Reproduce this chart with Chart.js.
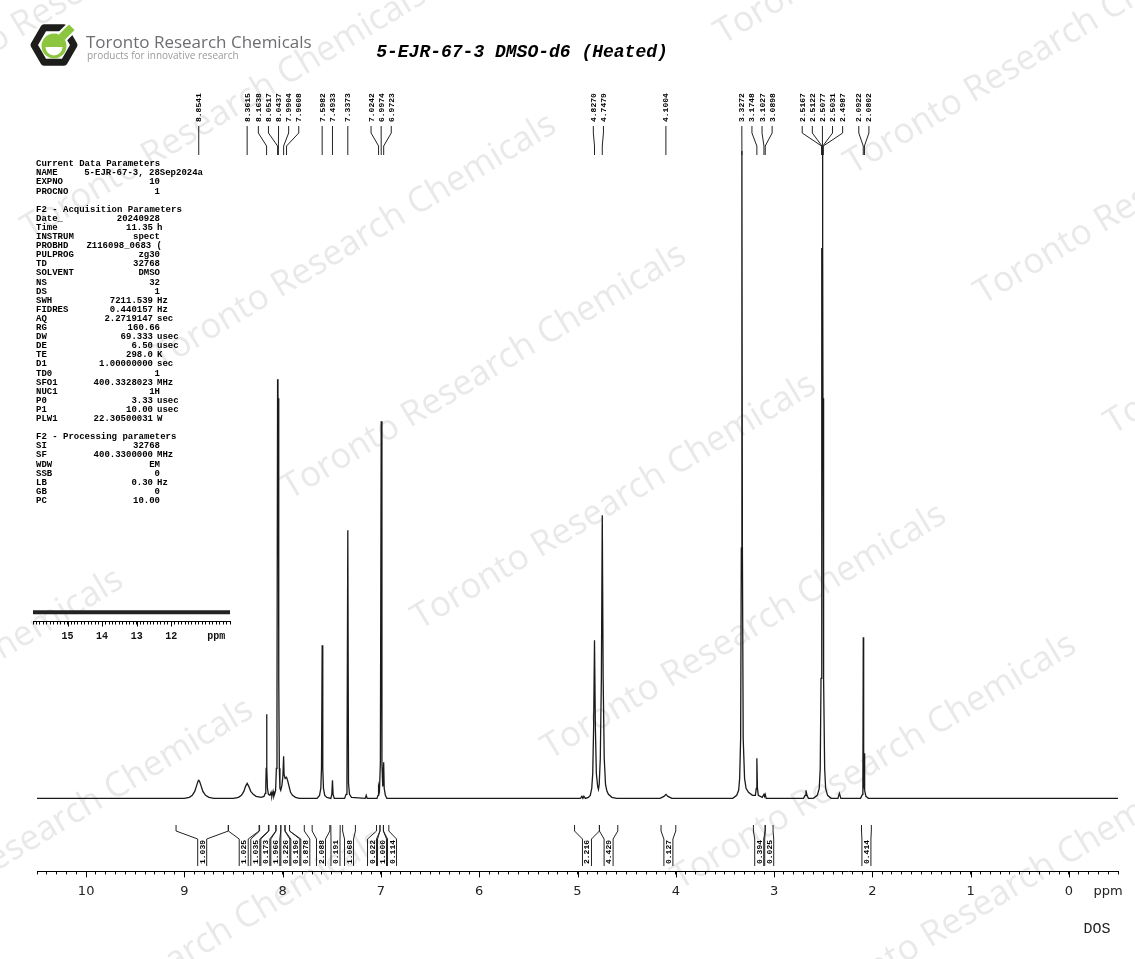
<!DOCTYPE html>
<html><head><meta charset="utf-8">
<script src="https://cdn.jsdelivr.net/npm/chart.js@4.4.1/dist/chart.umd.min.js"></script>
<style>
html,body{margin:0;padding:0;background:#fff;}
#wrap{position:relative;width:1135px;height:959px;overflow:hidden;}
#main{position:absolute;left:0;top:0;}
#inset{position:absolute;left:0;top:560px;}
</style></head><body>
<div id="wrap"><canvas id="main" width="1135" height="959"></canvas><canvas id="inset" width="250" height="100"></canvas></div>
<script>
// ---------- DATA ----------
const specPpm = [10.50,9.00,8.95,8.92,8.895,8.875,8.862,8.854,8.846,8.832,8.812,8.785,8.75,8.70,
 8.50,8.45,8.42,8.395,8.378,8.3615,8.345,8.325,8.30,8.27,8.22,
 8.19,8.178,8.172,8.168,8.1638,8.160,8.155,8.145,8.13,8.118,8.11,8.098,8.09,8.08,
 8.072,8.064,8.058,8.0517,8.0477,8.0437,8.040,8.034,8.028,
 8.02,8.008,7.998,7.9904,7.986,7.975,7.9608,7.95,7.935,7.92,7.90,7.87,7.83,
 7.65,7.625,7.612,7.605,7.5982,7.592,7.585,7.572,7.55,
 7.51,7.50,7.4933,7.487,7.475,
 7.37,7.355,7.346,7.3373,7.330,7.320,7.30,
 7.16,7.15,7.14,
 7.04,7.03,7.0242,7.015,7.006,6.9974,6.990,6.982,6.9723,6.967,6.955,6.94,
 4.97,4.955,4.945,4.935,4.92,
 4.89,4.87,4.855,4.845,4.836,4.827,4.818,4.808,4.795,4.787,4.779,4.768,4.757,4.748,4.739,4.728,4.715,4.70,4.685,4.65,4.60,
 4.16,4.12,4.10,4.08,4.04,
 3.42,3.38,3.36,3.35,3.34,3.333,3.3272,3.322,3.314,3.30,3.285,3.26,3.22,
 3.19,3.181,3.1748,3.169,3.16,3.12,3.1027,3.096,3.0898,3.08,
 2.70,2.685,2.675,2.665,2.65,
 2.60,2.56,2.54,2.53,2.522,2.5167,2.5145,2.5122,2.510,2.5077,2.5054,2.5031,2.501,2.4987,2.493,2.485,2.475,2.455,2.42,
 2.35,2.335,2.32,
 2.12,2.10,2.096,2.0922,2.088,2.084,2.0802,2.076,2.065,2.04,
 -0.50];
const specInt = [0,0,1,3,7,13,17,18,17,13,7,3,1,0,
 0,1,3,7,12,15,12,7,4,2,1,
 2,5,12,30,84,30,10,4,3,6,2,7,2,5,
 8,30,90,419,385,400,120,30,10,
 8,13,22,42,24,20,21,18,12,6,3,1,0,
 0,3,10,30,153,30,10,3,1,
 0,4,18,4,0,
 0,4,15,268,15,4,1,
 0,3,0,
 0,3,12,8,35,377,35,12,36,10,3,0,
 0,2,0,2,0,
 1,3,10,25,70,158,70,25,12,9,14,40,120,283,120,40,14,7,4,1,0,
 0,2,4,2,0,
 0,3,8,20,60,250,647,250,60,20,10,6,3,
 3,10,40,10,3,1,4,2,4,0,
 0,3,8,3,0,
 0,3,10,30,120,400,330,550,480,648,480,550,330,400,120,30,10,3,0,
 0,5,0,
 0,4,20,161,20,12,45,8,2,0,
 0];

const peakLabels = ['8.8541','8.3615','8.1638','8.0517','8.0437','7.9904','7.9608','7.5982','7.4933','7.3373',
 '7.0242','6.9974','6.9723','4.8270','4.7479','4.1004','3.3272','3.1748','3.1027','3.0898',
 '2.5167','2.5122','2.5077','2.5031','2.4987','2.0922','2.0802'];

const intFrom   = [9.085,8.553,8.235,8.14,8.067,8.018,7.975,7.93,7.70,7.51,7.39,7.045,7.01,6.975,5.03,4.777,4.15,3.21,3.09,2.11];
const intTo     = [8.553,8.24,8.145,8.07,8.02,7.978,7.93,7.78,7.52,7.415,7.26,7.01,6.975,6.92,4.777,4.59,4.00,3.09,3.01,2.01];
const intValues = ['1.039','1.025','1.035','0.173','1.966','0.226','0.196','0.878','2.088','0.191','1.068',
 '0.022','1.000','0.114','2.216','4.429','0.127','0.394','0.025','0.414'];

const axisMajor = [10,9,8,7,6,5,4,3,2,1,0];
const axisUnitLabel = 'ppm';

const insetPpm = [16.0, 10.3];
const insetInt = [0, 0];
const insetMajor = [15,14,13,12];

const titleText = '5-EJR-67-3 DMSO-d6 (Heated)';
const companyText = 'Toronto Research Chemicals';
const companySub = 'products for innovative research';
const footerText = 'DOS';

const s1Title = 'Current Data Parameters';
const s1Names = ['NAME','EXPNO','PROCNO'];
const s1Values = ['5-EJR-67-3, 28Sep2024a','10','1'];
const s1Units = ['','',''];
const s2Title = 'F2 - Acquisition Parameters';
const s2Names = ['Date_','Time','INSTRUM','PROBHD','PULPROG','TD','SOLVENT','NS','DS','SWH','FIDRES','AQ','RG','DW','DE','TE','D1','TD0','SFO1','NUC1','P0','P1','PLW1'];
const s2Values = ['20240928','11.35','spect','Z116098_0683 (','zg30','32768','DMSO','32','1','7211.539','0.440157','2.2719147','160.66','69.333','6.50','298.0','1.00000000','1','400.3328023','1H','3.33','10.00','22.30500031'];
const s2Units = ['','h','','','','','','','','Hz','Hz','sec','','usec','usec','K','sec','','MHz','','usec','usec','W'];
const s3Title = 'F2 - Processing parameters';
const s3Names = ['SI','SF','WDW','SSB','LB','GB','PC'];
const s3Values = ['32768','400.3300000','EM','0','0.30','0','10.00'];
const s3Units = ['','MHz','','','Hz','',''];

// ---------- HELPERS ----------
function spread(px, gap){
  let groups = px.map((p,i)=>({idx:[i], sum:p}));
  let changed = true;
  while(changed){
    changed = false;
    for(let k=0;k<groups.length-1;k++){
      const a=groups[k], b=groups[k+1];
      const ca=a.sum/a.idx.length, cb=b.sum/b.idx.length;
      const aEnd = ca + (a.idx.length-1)*gap/2;
      const bStart = cb - (b.idx.length-1)*gap/2;
      if(bStart - aEnd < gap){ groups.splice(k,2,{idx:a.idx.concat(b.idx), sum:a.sum+b.sum}); changed=true; break; }
    }
  }
  const out=[];
  for(const g of groups){ const n=g.idx.length, c=g.sum/n; g.idx.forEach((i,k)=>out[i]=c+(k-(n-1)/2)*gap); }
  return out;
}
function isNear(v,t){ return Math.abs(v-t)<1e-6; }

function drawWatermarks(ctx){
  ctx.save();
  ctx.fillStyle = '#e9e9e9';
  ctx.font = '35px "Open Sans"';
  ctx.textAlign = 'left'; ctx.textBaseline = 'alphabetic';
  const ang = -31*Math.PI/180;
  for(let i=-5;i<=7;i++){
    for(let j=-2;j<=2;j++){
      const x = 290 + i*130 + j*563, y = 500 + i*130 - j*325;
      if(x < -600 || x > 1250 || y < -100 || y > 1250) continue;
      ctx.save(); ctx.translate(x,y); ctx.rotate(ang); ctx.fillText(companyText,0,0); ctx.restore();
    }
  }
  ctx.restore();
}

function drawLogo(ctx){
  ctx.save();
  const cx=54, cy=45;
  ctx.beginPath();
  for(let k=0;k<6;k++){ const a=k*Math.PI/3; const x=cx+20*Math.cos(a), y=cy+20*Math.sin(a); if(k) ctx.lineTo(x,y); else ctx.moveTo(x,y); }
  ctx.closePath(); ctx.lineWidth=7; ctx.lineJoin='round'; ctx.strokeStyle='#1d1d1b'; ctx.stroke();
  ctx.fillStyle='#8cc63e';
  ctx.save(); ctx.translate(cx+10,cy-10); ctx.rotate(Math.PI/4);
  ctx.fillStyle='#fff'; ctx.fillRect(-6,-12,12,16);
  ctx.fillStyle='#8cc63e'; ctx.fillRect(-4,-11,8,14); ctx.restore();
  ctx.beginPath(); ctx.arc(cx,cy+1,12.5,0,Math.PI*2); ctx.fill();
  ctx.fillStyle='#fff'; ctx.beginPath(); ctx.arc(cx,cy+2,8.5,0,Math.PI); ctx.closePath(); ctx.fill();
  ctx.restore();
  ctx.save();
  ctx.fillStyle='#6d6e71'; ctx.textBaseline='middle'; ctx.textAlign='left';
  ctx.font='17px "Open Sans"'; ctx.fillText(companyText, 86, 43);
  ctx.fillStyle='#9a9a9a'; ctx.font='10px "Open Sans"'; ctx.fillText(companySub, 87, 56);
  ctx.restore();
}

function drawParams(ctx){
  ctx.save();
  ctx.fillStyle='#000'; ctx.font='bold 9px "Liberation Mono"'; ctx.textBaseline='middle';
  const lh = 9.1, y0 = 164;
  const rowY = r => y0 + r*lh;
  function block(title, names, values, units, r0){
    ctx.textAlign='left'; ctx.fillText(title, 36, rowY(r0));
    names.forEach((n,i)=>{
      const y = rowY(r0+1+i);
      ctx.textAlign='left'; ctx.fillText(n, 36, y);
      let xr = units[i] ? 153 : 160;
      if(n==='NAME') xr = 203;
      if(n==='PROBHD') xr = 162;
      ctx.textAlign='right'; ctx.fillText(values[i], xr, y);
      if(units[i]){ ctx.textAlign='left'; ctx.fillText(units[i], 157, y); }
    });
  }
  block(s1Title, s1Names, s1Values, s1Units, 0);
  block(s2Title, s2Names, s2Values, s2Units, 5);
  block(s3Title, s3Names, s3Values, s3Units, 30);
  ctx.restore();
}

const bgPlugin = {
  id:'bg',
  beforeDraw(chart){
    const ctx = chart.ctx;
    ctx.save(); ctx.fillStyle='#fff'; ctx.fillRect(0,0,chart.width,chart.height); ctx.restore();
    drawWatermarks(ctx);
  }
};

const overlayPlugin = {
  id:'overlay',
  afterDraw(chart){
    const ctx = chart.ctx, xs = chart.scales.x, yb = chart.chartArea.bottom;
    ctx.save();
    ctx.strokeStyle='#000'; ctx.lineWidth=1;
    axisMajor.forEach(v=>{
      const x = Math.round(xs.getPixelForValue(v))+0.5;
      ctx.beginPath(); ctx.moveTo(x, yb); ctx.lineTo(x, yb+6); ctx.stroke();
    });
    const ppx = peakLabels.map(s=>xs.getPixelForValue(parseFloat(s)));
    const lpx = spread(ppx, 10.1);
    ctx.strokeStyle='#222'; ctx.fillStyle='#000';
    ctx.font='bold 8px "Liberation Mono"';
    peakLabels.forEach((s,i)=>{
      const lx = lpx[i], px = ppx[i];
      ctx.beginPath(); ctx.moveTo(lx,126); ctx.lineTo(lx,133); ctx.lineTo(px,146); ctx.lineTo(px,155); ctx.stroke();
      ctx.save(); ctx.translate(lx+0.5,122); ctx.rotate(-Math.PI/2);
      ctx.textAlign='left'; ctx.textBaseline='middle'; ctx.fillText(s,0,0); ctx.restore();
    });
    const mids = intFrom.map((f,i)=>xs.getPixelForValue((f+intTo[i])/2));
    const bpx = spread(mids, 10);
    intValues.forEach((s,i)=>{
      const a = xs.getPixelForValue(intFrom[i]), b = xs.getPixelForValue(intTo[i]), c = bpx[i];
      ctx.beginPath();
      ctx.moveTo(a,825); ctx.lineTo(a,831); ctx.lineTo(c-4.5,839); ctx.lineTo(c-4.5,866);
      ctx.moveTo(b,825); ctx.lineTo(b,831); ctx.lineTo(c+4.5,839); ctx.lineTo(c+4.5,866);
      ctx.stroke();
      ctx.save(); ctx.translate(c+0.5,864); ctx.rotate(-Math.PI/2);
      ctx.textAlign='left'; ctx.textBaseline='middle'; ctx.fillText(s,0,0); ctx.restore();
    });
    ctx.restore();
    drawLogo(ctx);
    drawParams(ctx);
    ctx.save();
    ctx.fillStyle='#000'; ctx.textAlign='center'; ctx.textBaseline='middle';
    ctx.font='italic bold 18px "Liberation Mono"';
    ctx.fillText(titleText, 522, 52);
    ctx.font='15px "Liberation Mono"'; ctx.fillStyle='#222';
    ctx.fillText(footerText, 1097, 929);
    ctx.restore();
  }
};

new Chart(document.getElementById('main'), {
  type:'scatter',
  data:{ datasets:[{ data: specPpm.map((x,i)=>({x, y:specInt[i]})), showLine:true, borderColor:'#1a1a1a', borderWidth:1.3, pointRadius:0, tension:0, fill:false }] },
  options:{
    responsive:false, animation:false, devicePixelRatio:1,
    layout:{ padding:{ left:37, right:17, top:100, bottom:51 } },
    plugins:{ legend:{display:false}, tooltip:{enabled:false}, title:{display:false} },
    scales:{
      x:{ type:'linear', reverse:true, min:-0.5, max:10.5,
        border:{display:true, color:'#000', width:1},
        grid:{ drawOnChartArea:false, drawTicks:true, tickLength:3, color:'#000', lineWidth:1 },
        ticks:{ stepSize:0.1, autoSkip:false, maxRotation:0, minRotation:0, padding:9, color:'#222',
          font:{ family:'DejaVu Sans', size:13 },
          callback:(v)=>{ const r=Math.round(v); if(isNear(v,r) && axisMajor.includes(r)) return String(r); if(isNear(v,-0.4)) return axisUnitLabel; return ''; } }
      },
      y:{ display:false, min:-73, max:698 }
    }
  },
  plugins:[bgPlugin, overlayPlugin]
});

const insetPlugin = {
  id:'insetTicks',
  afterDraw(chart){
    const ctx=chart.ctx, xs=chart.scales.x, yb=chart.chartArea.bottom;
    ctx.save(); ctx.strokeStyle='#000'; ctx.lineWidth=1;
    insetMajor.forEach(v=>{ const x=Math.round(xs.getPixelForValue(v))+0.5; ctx.beginPath(); ctx.moveTo(x,yb); ctx.lineTo(x,yb+5); ctx.stroke(); });
    ctx.restore();
  }
};

new Chart(document.getElementById('inset'), {
  type:'scatter',
  data:{ datasets:[{ data: insetPpm.map((x,i)=>({x, y:insetInt[i]})), showLine:true, borderColor:'#222', borderWidth:4, pointRadius:0 }] },
  options:{
    responsive:false, animation:false, devicePixelRatio:1,
    layout:{ padding:{ left:33, right:20, top:36, bottom:13 } },
    plugins:{ legend:{display:false}, tooltip:{enabled:false} },
    scales:{
      x:{ type:'linear', reverse:true, min:10.3, max:16.0,
        border:{display:true, color:'#000', width:1},
        grid:{ drawOnChartArea:false, drawTicks:true, tickLength:3, color:'#000', lineWidth:1 },
        ticks:{ stepSize:0.1, autoSkip:false, maxRotation:0, minRotation:0, padding:6, color:'#111',
          font:{ family:'Liberation Mono', size:10, weight:'bold' },
          callback:(v)=>{ const r=Math.round(v); if(isNear(v,r) && insetMajor.includes(r)) return String(r); if(isNear(v,10.7)) return axisUnitLabel; return ''; } }
      },
      y:{ display:false, min:-11, max:19 }
    }
  },
  plugins:[insetPlugin]
});
</script>
</body></html>
